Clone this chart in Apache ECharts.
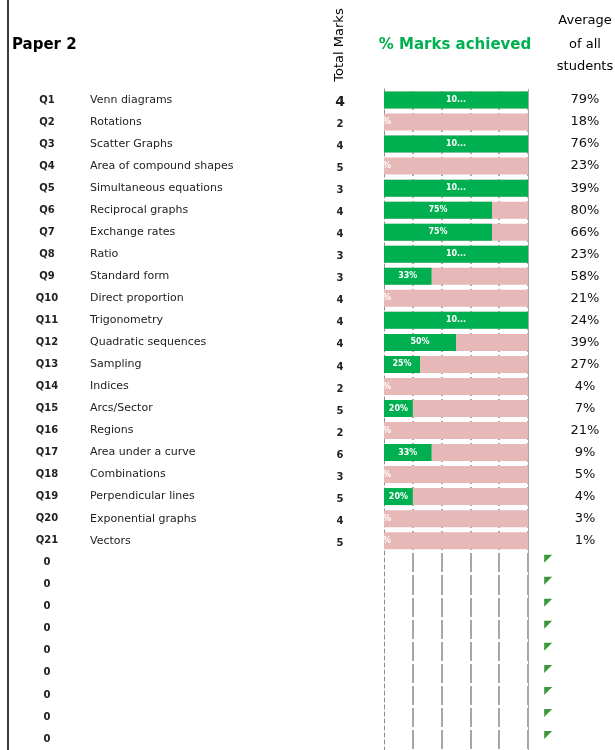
<!DOCTYPE html>
<html><head><meta charset="utf-8">
<script src="https://cdn.jsdelivr.net/npm/echarts@6/dist/echarts.min.js"></script>
<style>html,body{margin:0;padding:0;background:#fff}#c{width:615px;height:750px}</style>
</head><body><div id="c"></div>
<script>
const questions = ['Q1','Q2','Q3','Q4','Q5','Q6','Q7','Q8','Q9','Q10','Q11','Q12','Q13','Q14','Q15','Q16','Q17','Q18','Q19','Q20','Q21'];
const topics = ['Venn diagrams','Rotations','Scatter Graphs','Area of compound shapes','Simultaneous equations','Reciprocal graphs','Exchange rates','Ratio','Standard form','Direct proportion','Trigonometry','Quadratic sequences','Sampling','Indices','Arcs/Sector','Regions','Area under a curve','Combinations','Perpendicular lines','Exponential graphs','Vectors'];
const totalMarks = [4,2,4,5,3,4,4,3,3,4,4,4,4,2,5,2,6,3,5,4,5];
const achieved = [100,0,100,0,100,75,75,100,33,0,100,50,25,0,20,0,33,0,20,0,0];
const average = [79,18,76,23,39,80,66,23,58,21,24,39,27,4,7,21,9,5,4,3,1];
const emptyRowLabels = ['0','0','0','0','0','0','0','0','0'];
const xTicks = [0,20,40,60,80,100];
const flagX = 114; // position of the green corner flag, in % scale units

const FONT = 'DejaVu Sans';
const n = questions.length;
const rowCount = n + emptyRowLabels.length;
const rowIds = Array.from({length: rowCount}, (_, i) => 'r' + i);
const qLabels = questions.concat(emptyRowLabels);
const topicLabels = topics.concat(emptyRowLabels.map(() => ''));
const totalLabels = totalMarks.map(String).concat(emptyRowLabels.map(() => ''));
const avgLabels = average.map(v => v + '%').concat(emptyRowLabels.map(() => ''));

const bgData = rowIds.map((_, i) => i < n ? 100 : null);
const greenData = achieved.map(v => ({
  value: v,
  label: v === 0 ? {position: 'right', distance: -1} : {position: 'inside'}
}));
const flagData = emptyRowLabels.map((_, k) => [flagX, n + k]);

const chart = echarts.init(document.getElementById('c'), null, {renderer: 'canvas'});

function labelAxis(data, extra) {
  return Object.assign({
    type: 'category', data: data, inverse: true,
    axisLine: {show: false}, axisTick: {show: false}, splitLine: {show: false}
  }, extra);
}

chart.setOption({
  animation: false,
  backgroundColor: '#fff',
  grid: {left: 384, width: 144, top: 89, height: 662, containLabel: false},
  xAxis: {
    type: 'value', min: xTicks[0], max: xTicks[xTicks.length - 1], interval: 20,
    axisLabel: {show: false}, axisTick: {show: false}, axisLine: {show: false},
    splitLine: {show: true, showMinLine: false, lineStyle: {color: '#a6a6a6', width: 2}},
    z: 0
  },
  yAxis: [
    {
      type: 'category', data: rowIds, inverse: true, z: 1,
      axisLabel: {show: false}, axisTick: {show: false},
      axisLine: {show: true, lineStyle: {color: '#8c8c8c', width: 1, type: [4, 3]}},
      splitLine: {show: true, interval: 0, lineStyle: {color: '#ffffff', width: 3}}
    },
    labelAxis(qLabels, {position: 'left', offset: 337,
      axisLabel: {margin: 0, padding: [6, 0, 0, 0], align: 'center', fontFamily: FONT, fontSize: 10, fontWeight: 'bold', color: '#222'}}),
    labelAxis(topicLabels, {position: 'left', offset: 294,
      axisLabel: {margin: 0, padding: [6, 0, 0, 0], align: 'left', fontFamily: FONT, fontSize: 11, color: '#222'}}),
    labelAxis(totalLabels, {position: 'left', offset: 44,
      axisLabel: {margin: 0, padding: [5, 0, 0, 0], align: 'center', fontFamily: FONT, fontSize: 10, fontWeight: 'bold', color: '#222',
        formatter: (v, i) => i === 0 ? '{big|' + v + '}' : v,
        rich: {big: {fontFamily: FONT, fontSize: 14, color: '#222'}}}}),
    labelAxis(avgLabels, {position: 'right', offset: 57,
      axisLabel: {margin: 0, padding: [5, 0, 0, 0], align: 'center', fontFamily: FONT, fontSize: 13, color: '#111'}})
  ],
  series: [
    {
      type: 'bar', name: 'background', data: bgData, barWidth: 17, silent: true,
      itemStyle: {color: '#e6b8b7'}, z: 2
    },
    {
      type: 'bar', name: '% Marks achieved', data: greenData, barWidth: 17, barGap: '-100%', silent: true,
      itemStyle: {color: '#00b050'}, z: 3,
      label: {show: true, color: '#fff', fontFamily: FONT, fontSize: 8, fontWeight: 'bold',
        formatter: p => p.value === 100 ? '10...' : (p.value === 0 ? '%' : p.value + '%')}
    },
    {
      type: 'scatter', data: flagData, clip: false, silent: true,
      symbol: 'path://M0,0L10,0L0,10Z', symbolSize: 8, symbolOffset: [0, -4],
      itemStyle: {color: '#0a7d0a'}, z: 4
    }
  ],
  graphic: [
    {type: 'line', shape: {x1: 8, y1: 0, x2: 8, y2: 750}, style: {stroke: '#3a3a3a', lineWidth: 2}},
    {type: 'text', x: 12, y: 45, style: {text: 'Paper 2', font: 'bold 15px "DejaVu Sans"', fill: '#000', textAlign: 'left', textVerticalAlign: 'middle'}},
    {type: 'text', x: 340, y: 45, rotation: Math.PI / 2, style: {text: 'Total Marks', font: '13px "DejaVu Sans"', fill: '#000', textAlign: 'center', textVerticalAlign: 'middle'}},
    {type: 'text', x: 455, y: 45, style: {text: '% Marks achieved', font: 'bold 15px "DejaVu Sans"', fill: '#00b050', textAlign: 'center', textVerticalAlign: 'middle'}},
    {type: 'text', x: 585, y: 21, style: {text: 'Average', font: '13px "DejaVu Sans"', fill: '#000', textAlign: 'center', textVerticalAlign: 'middle'}},
    {type: 'text', x: 585, y: 45, style: {text: 'of all', font: '13px "DejaVu Sans"', fill: '#000', textAlign: 'center', textVerticalAlign: 'middle'}},
    {type: 'text', x: 585, y: 67, style: {text: 'students', font: '13px "DejaVu Sans"', fill: '#000', textAlign: 'center', textVerticalAlign: 'middle'}}
  ]
});
</script>
</body></html>
